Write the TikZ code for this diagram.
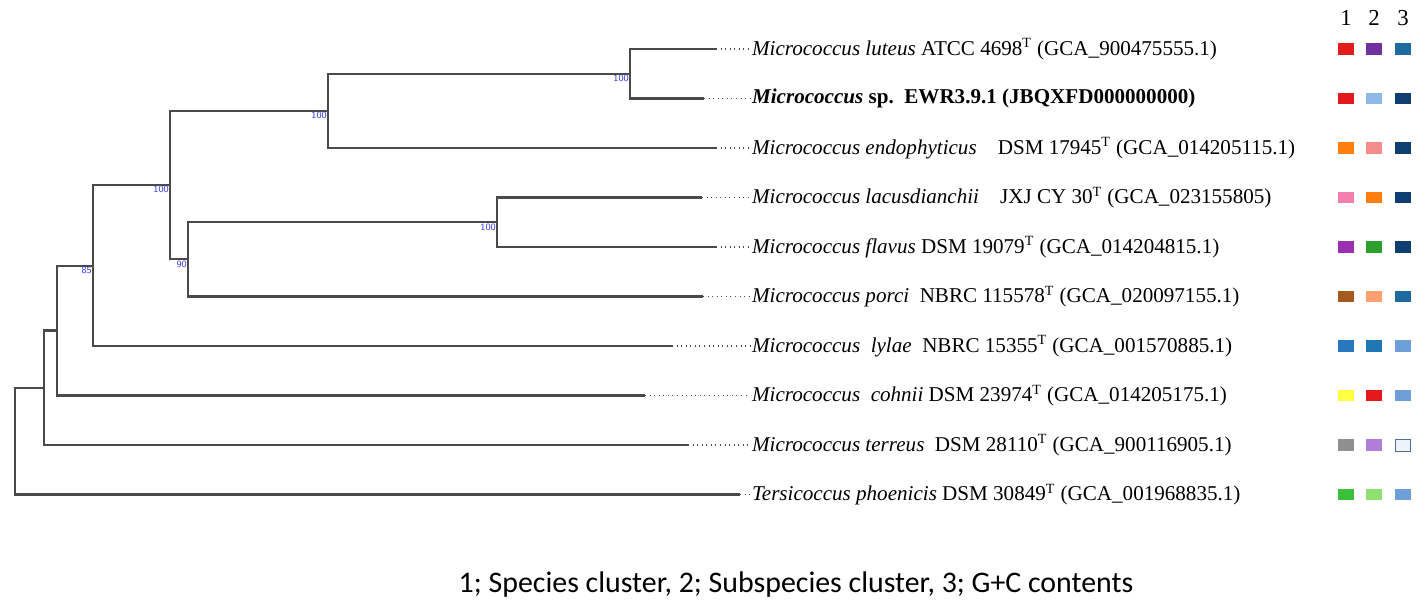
\documentclass[tikz,border=0pt]{standalone}
\usepackage{fontspec}
\setmainfont{Liberation Serif}
\newfontfamily\legendfont{Carlito}
\usetikzlibrary{positioning}
\definecolor{branchgray}{HTML}{4A4A4A}
\definecolor{bootblue}{HTML}{3A3AE0}
\definecolor{cred}{HTML}{E31A1C}
\definecolor{cpurple}{HTML}{7030A0}
\definecolor{cblue}{HTML}{1F6A9E}
\definecolor{clightblue}{HTML}{8DB8E8}
\definecolor{cnavy}{HTML}{0E3F70}
\definecolor{corange}{HTML}{FF7F0E}
\definecolor{csalmon}{HTML}{F58C8C}
\definecolor{cpink}{HTML}{F47FAE}
\definecolor{cviolet}{HTML}{9A2FB2}
\definecolor{cgreen}{HTML}{2CA02C}
\definecolor{cbrown}{HTML}{A65A22}
\definecolor{cpeach}{HTML}{FFA070}
\definecolor{csteel}{HTML}{2878C0}
\definecolor{cteal}{HTML}{1F78B4}
\definecolor{csky}{HTML}{6F9FD8}
\definecolor{cyellow}{HTML}{FFFF44}
\definecolor{cgray}{HTML}{8F8F8F}
\definecolor{clavender}{HTML}{B07ED8}
\definecolor{cpale}{HTML}{EEF2FA}
\definecolor{clime}{HTML}{3CC03C}
\definecolor{clightgreen}{HTML}{90E070}

\begin{document}
\begin{tikzpicture}[x=0.02cm, y=-0.02cm]
    \tikzset{branch/.style={branchgray, line width=1.2pt}}
    \tikzset{leader/.style={dotted, branchgray, line width=0.6pt}}
    \tikzset{boot/.style={bootblue, font=\sffamily\fontsize{5.5}{5.5}\selectfont, inner sep=0.5pt, anchor=north east}}
    \tikzset{taxon/.style={anchor=west, inner sep=1pt, font=\fontsize{12}{14}\selectfont}}
    \tikzset{box/.style={minimum width=9pt, minimum height=6.8pt, inner sep=0pt}}
    \useasboundingbox (0, 0) rectangle (1417, 602);
    \coordinate (root) at (15, 441.1);
    \coordinate (m8) at (44, 387.8);
    \coordinate (m7) at (57, 330.5);
    \coordinate (m6) at (93, 265.6);
    \coordinate (m5) at (170, 185.1);
    \coordinate (m2) at (328, 110.9);
    \coordinate (m1) at (630, 73.75);
    \coordinate (m4) at (188, 259.4);
    \coordinate (m3) at (497, 222.25);
    \coordinate (e1) at (716, 49);
    \coordinate (e2) at (704, 98.5);
    \coordinate (e3) at (716, 148);
    \coordinate (e4) at (702, 197.5);
    \coordinate (e5) at (716, 247);
    \coordinate (e6) at (703, 296.5);
    \coordinate (e7) at (672, 346);
    \coordinate (e8) at (645, 395.5);
    \coordinate (e9) at (688, 445);
    \coordinate (e10) at (740, 494.5);
    \draw[branch] (root) |- (m8);
    \draw[branch] (root) |- (e10);
    \draw[branch] (m8) |- (m7);
    \draw[branch] (m8) |- (e9);
    \draw[branch] (m7) |- (m6);
    \draw[branch] (m7) |- (e8);
    \draw[branch] (m6) |- (m5);
    \draw[branch] (m6) |- (e7);
    \draw[branch] (m5) |- (m2);
    \draw[branch] (m5) |- (m4);
    \draw[branch] (m2) |- (m1);
    \draw[branch] (m2) |- (e3);
    \draw[branch] (m1) |- (e1);
    \draw[branch] (m1) |- (e2);
    \draw[branch] (m4) |- (m3);
    \draw[branch] (m4) |- (e6);
    \draw[branch] (m3) |- (e4);
    \draw[branch] (m3) |- (e5);
    \node[boot] (b1) at (m1) {100};
    \node[boot] (b2) at (m2) {100};
    \node[boot] (b3) at (m3) {100};
    \node[boot] (b4) at (m4) {90};
    \node[boot] (b5) at (m5) {100};
    \node[boot] (b6) at (m6) {85};
    \node[taxon] (t1) at (750, 49) {\textit{Micrococcus luteus} ATCC 4698\textsuperscript{T} (GCA\_900475555.1)};
    \node[taxon] (t2) at (750, 98.5) {\textbf{\textit{Micrococcus} sp.\ \ EWR3.9.1 (JBQXFD000000000)}};
    \node[taxon] (t3) at (750, 148) {\textit{Micrococcus endophyticus}\quad DSM 17945\textsuperscript{T} (GCA\_014205115.1)};
    \node[taxon] (t4) at (750, 197.5) {\textit{Micrococcus lacusdianchii}\quad JXJ CY 30\textsuperscript{T} (GCA\_023155805)};
    \node[taxon] (t5) at (750, 247) {\textit{Micrococcus flavus} DSM 19079\textsuperscript{T} (GCA\_014204815.1)};
    \node[taxon] (t6) at (750, 296.5) {\textit{Micrococcus porci}\ \ NBRC 115578\textsuperscript{T} (GCA\_020097155.1)};
    \node[taxon] (t7) at (750, 346) {\textit{Micrococcus\ \ lylae}\ \ NBRC 15355\textsuperscript{T} (GCA\_001570885.1)};
    \node[taxon] (t8) at (750, 395.5) {\textit{Micrococcus\ \ cohnii} DSM 23974\textsuperscript{T} (GCA\_014205175.1)};
    \node[taxon] (t9) at (750, 445) {\textit{Micrococcus terreus}\ \ DSM 28110\textsuperscript{T} (GCA\_900116905.1)};
    \node[taxon] (t10) at (750, 494.5) {\textit{Tersicoccus phoenicis} DSM 30849\textsuperscript{T} (GCA\_001968835.1)};
    \draw[leader] (e1) -- (t1.west);
    \draw[leader] (e2) -- (t2.west);
    \draw[leader] (e3) -- (t3.west);
    \draw[leader] (e4) -- (t4.west);
    \draw[leader] (e5) -- (t5.west);
    \draw[leader] (e6) -- (t6.west);
    \draw[leader] (e7) -- (t7.west);
    \draw[leader] (e8) -- (t8.west);
    \draw[leader] (e9) -- (t9.west);
    \draw[leader] (e10) -- (t10.west);
    \node[font=\fontsize{13}{15}\selectfont] (h1) at (1346, 18) {1};
    \node[font=\fontsize{13}{15}\selectfont] (h2) at (1374, 18) {2};
    \node[font=\fontsize{13}{15}\selectfont] (h3) at (1403, 18) {3};
    \node[box, fill=cred] (s1a) at (1346, 49) {};
    \node[box, fill=cpurple] (s1b) at (1374, 49) {};
    \node[box, fill=cblue] (s1c) at (1403, 49) {};
    \node[box, fill=cred] (s2a) at (1346, 98.5) {};
    \node[box, fill=clightblue] (s2b) at (1374, 98.5) {};
    \node[box, fill=cnavy] (s2c) at (1403, 98.5) {};
    \node[box, fill=corange] (s3a) at (1346, 148) {};
    \node[box, fill=csalmon] (s3b) at (1374, 148) {};
    \node[box, fill=cnavy] (s3c) at (1403, 148) {};
    \node[box, fill=cpink] (s4a) at (1346, 197.5) {};
    \node[box, fill=corange] (s4b) at (1374, 197.5) {};
    \node[box, fill=cnavy] (s4c) at (1403, 197.5) {};
    \node[box, fill=cviolet] (s5a) at (1346, 247) {};
    \node[box, fill=cgreen] (s5b) at (1374, 247) {};
    \node[box, fill=cnavy] (s5c) at (1403, 247) {};
    \node[box, fill=cbrown] (s6a) at (1346, 296.5) {};
    \node[box, fill=cpeach] (s6b) at (1374, 296.5) {};
    \node[box, fill=cblue] (s6c) at (1403, 296.5) {};
    \node[box, fill=csteel] (s7a) at (1346, 346) {};
    \node[box, fill=cteal] (s7b) at (1374, 346) {};
    \node[box, fill=csky] (s7c) at (1403, 346) {};
    \node[box, fill=cyellow] (s8a) at (1346, 395.5) {};
    \node[box, fill=cred] (s8b) at (1374, 395.5) {};
    \node[box, fill=csky] (s8c) at (1403, 395.5) {};
    \node[box, fill=cgray] (s9a) at (1346, 445) {};
    \node[box, fill=clavender] (s9b) at (1374, 445) {};
    \node[box, fill=cpale, draw=csky!70!black, line width=0.5pt] (s9c) at (1403, 445) {};
    \node[box, fill=clime] (s10a) at (1346, 494.5) {};
    \node[box, fill=clightgreen] (s10b) at (1374, 494.5) {};
    \node[box, fill=csky] (s10c) at (1403, 494.5) {};
    \node[font=\legendfont\fontsize{17}{20}\selectfont] (legend) at (796, 585) {1; Species cluster, 2; Subspecies cluster, 3; G+C contents};
\end{tikzpicture}
\end{document}
